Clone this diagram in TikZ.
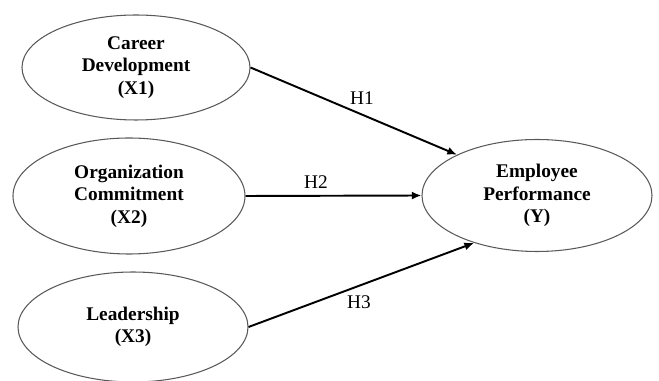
\documentclass[tikz,border=0pt]{standalone}
\usepackage{fontspec}
\setmainfont{Liberation Serif}
\usetikzlibrary{shapes.geometric,arrows.meta,positioning}

\begin{document}
\begin{tikzpicture}[
		VarEllipse/.style={ellipse, draw=black!65, line width=0.6pt, inner sep=0pt, align=center,
			font=\fontsize{11}{12.8}\selectfont\bfseries, execute at begin node={\rule{0pt}{10.8pt}}},
		HypArrow/.style={-{Latex[length=5.5pt,width=4.6pt]}, line width=1.1pt, black},
		HypLabel/.style={font=\fontsize{11}{12.8}\selectfont}
	]
			\pgfmathsetmacro{\EllWidth}{4.6}
			\pgfmathsetmacro{\EllHeight}{2.24}
			\useasboundingbox (0,0) rectangle (13.18,7.62);
			
			% INDEPENDENT VARIABLES
			\node[VarEllipse, minimum width=4.56cm, minimum height=2.1cm] (CareerDev) at (2.72,6.27) {Career\\Development\\(X1)};
			\node[VarEllipse, minimum width=4.64cm, minimum height=2.32cm] (OrgCommit) at (2.58,3.70) {Organization\\Commitment\\(X2)};
			\node[VarEllipse, minimum width=\EllWidth cm, minimum height=2.2cm] (Leadership) at (2.66,1.08) {Leadership\\(X3)};
			
			% DEPENDENT VARIABLE
			\node[VarEllipse, minimum width=\EllWidth cm, minimum height=\EllHeight cm] (EmpPerf) at (10.74,3.71) {Employee\\Performance\\(Y)};
			
			% HYPOTHESES
			\draw[HypArrow] (CareerDev.east) -- (EmpPerf.153) node[HypLabel, pos=0.54, above=2pt] (HypOne) {H1};
			\draw[HypArrow] (OrgCommit.east) -- (EmpPerf.west) node[HypLabel, pos=0.40, above] (HypTwo) {H2};
			\draw[HypArrow] (Leadership.east) -- (EmpPerf.217) node[HypLabel, pos=0.49, below=2pt] (HypThree) {H3};
		\end{tikzpicture}
\end{document}
